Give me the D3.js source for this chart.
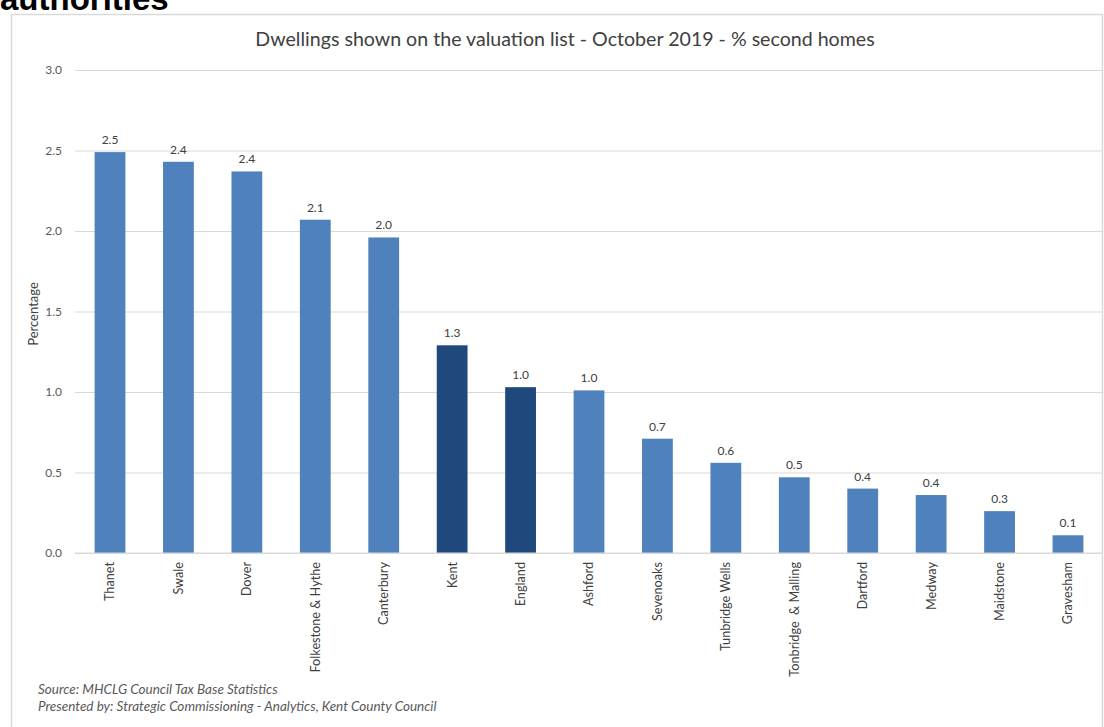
<!DOCTYPE html>
<html>
<head>
<meta charset="utf-8">
<script src="https://cdn.jsdelivr.net/npm/d3@7"></script>
<style>
  html, body { margin: 0; padding: 0; background: #ffffff; overflow: hidden; }
  svg { display: block; }
  text { white-space: pre; }
</style>
</head>
<body>
<svg id="chart" width="1104" height="727"></svg>
<script>
// Local authorities and the share of dwellings that are second homes (%)
const areas = ["Thanet", "Swale", "Dover", "Folkestone & Hythe", "Canterbury", "Kent", "England",
  "Ashford", "Sevenoaks", "Tunbridge Wells", "Tonbridge  & Malling", "Dartford", "Medway",
  "Maidstone", "Gravesham"];
const secondHomesPct = [2.49, 2.43, 2.37, 2.07, 1.96, 1.29, 1.03, 1.01, 0.71, 0.56, 0.47, 0.40, 0.36, 0.26, 0.11];
// Kent and England are the comparator totals, shown darker
const comparators = ["Kent", "England"];
const yTicks = [0, 0.5, 1.0, 1.5, 2.0, 2.5, 3.0];

const svg = d3.select("#chart");
const font = "'Lato', 'Open Sans', sans-serif";

// Page heading running above the chart frame
svg.append("text")
  .attr("x", 0).attr("y", 10)
  .attr("font-family", "'Liberation Sans', Arial, sans-serif")
  .attr("font-weight", "bold").attr("font-size", 33)
  .attr("fill", "#000")
  .text("authorities");

// Chart frame
svg.append("rect")
  .attr("x", 11.5).attr("y", 14.5)
  .attr("width", 1091).attr("height", 740)
  .attr("fill", "#fff").attr("stroke", "#d9d9d9").attr("stroke-width", 1.5);

const x = d3.scaleBand().domain(areas).range([75.8, 1102.2]).paddingInner(0.55).paddingOuter(0.275);
const y = d3.scaleLinear().domain([0, 3]).range([553, 70]);

// Title
svg.append("text")
  .attr("x", 565).attr("y", 46)
  .attr("text-anchor", "middle")
  .attr("font-family", font).attr("font-size", 19.6)
  .attr("fill", "#404040")
  .text("Dwellings shown on the valuation list - October 2019 - % second homes");

// Gridlines and y tick labels
const yAxis = d3.axisLeft(y).tickValues(yTicks).tickFormat(d3.format(".1f"))
  .tickSize(-(1102 - 75)).tickPadding(13);
const gy = svg.append("g").attr("transform", "translate(75,0)").call(yAxis);
gy.select(".domain").remove();
gy.selectAll(".tick line").attr("stroke", "#d9d9d9").attr("stroke-width", 1.2);
gy.selectAll(".tick text")
  .attr("font-family", font).attr("font-size", 12).attr("fill", "#595959");

// Y axis title
svg.append("text")
  .attr("transform", "translate(38,314) rotate(-90)")
  .attr("text-anchor", "middle")
  .attr("font-family", font).attr("font-size", 13).attr("fill", "#404040")
  .text("Percentage");

// Bars
svg.append("g").selectAll("rect")
  .data(areas.map((a, i) => ({ area: a, value: secondHomesPct[i] })))
  .join("rect")
  .attr("x", d => x(d.area))
  .attr("y", d => y(d.value))
  .attr("width", x.bandwidth())
  .attr("height", d => y(0) - y(d.value))
  .attr("fill", d => comparators.includes(d.area) ? "#1f497d" : "#4f81bd");

// Value labels
svg.append("g").selectAll("text")
  .data(areas.map((a, i) => ({ area: a, value: secondHomesPct[i] })))
  .join("text")
  .attr("x", d => x(d.area) + x.bandwidth() / 2)
  .attr("y", d => y(d.value) - 8)
  .attr("text-anchor", "middle")
  .attr("font-family", font).attr("font-size", 12).attr("fill", "#404040")
  .text(d => d.value.toFixed(1));

// Baseline
svg.append("line")
  .attr("x1", 75).attr("x2", 1102).attr("y1", y(0)).attr("y2", y(0))
  .attr("stroke", "#d9d9d9").attr("stroke-width", 1.2);

// Category labels, rotated
const xAxis = d3.axisBottom(x).tickSize(0).tickPadding(0);
const gx = svg.append("g").attr("transform", `translate(0,${y(0)})`).call(xAxis);
gx.select(".domain").remove();
gx.selectAll(".tick text")
  .attr("transform", "rotate(-90)")
  .attr("x", -9).attr("y", 0).attr("dy", "0.35em")
  .attr("text-anchor", "end")
  .attr("font-family", font).attr("font-size", 12.7).attr("fill", "#404040");

// Source notes
const notes = ["Source: MHCLG Council Tax Base Statistics",
  "Presented by: Strategic Commissioning - Analytics, Kent County Council"];
svg.append("g").selectAll("text").data(notes).join("text")
  .attr("x", 38).attr("y", (d, i) => 694 + i * 17)
  .attr("font-family", font).attr("font-style", "italic")
  .attr("font-size", 13.5).attr("fill", "#595959")
  .text(d => d);
</script>
</body>
</html>
